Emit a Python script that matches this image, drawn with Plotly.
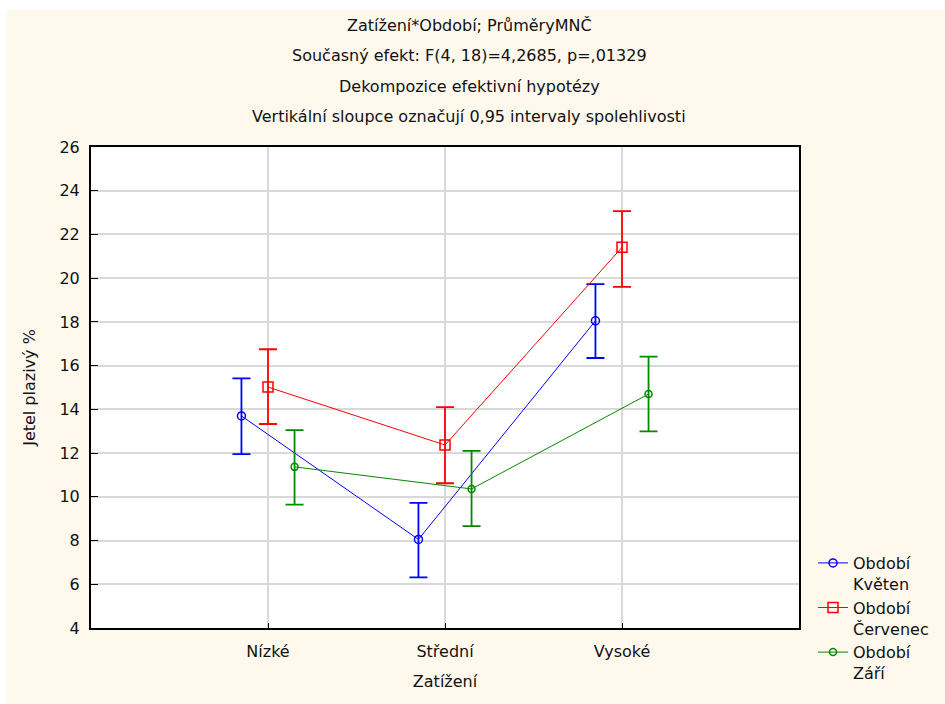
import plotly.graph_objects as go

# Zatížení (grazing load) levels and the three sampling periods
categories = ["Nízké", "Střední", "Vysoké"]
periods = ["Květen", "Červenec", "Září"]

# LS means of white clover share (%) with 0.95 confidence limits
mean_kveten = [13.7, 8.05, 18.05]
low_kveten = [11.95, 6.32, 16.35]
high_kveten = [15.42, 9.72, 19.73]

mean_cervenec = [15.02, 12.37, 21.41]
low_cervenec = [13.33, 10.62, 19.6]
high_cervenec = [16.75, 14.1, 23.07]

mean_zari = [11.37, 10.36, 14.7]
low_zari = [9.64, 8.66, 12.99]
high_zari = [13.05, 12.1, 16.41]

y_ticks = list(range(4, 27, 2))

FONT = "DejaVu Sans, Liberation Sans, sans-serif"
CREAM = "#FFF9ED"
TXT = "#111111"

series = [
    ("Květen", mean_kveten, low_kveten, high_kveten, "#0000FF", "circle-open", 8, -0.15),
    ("Červenec", mean_cervenec, low_cervenec, high_cervenec, "#FF0000", "square-open", 10, 0.0),
    ("Září", mean_zari, low_zari, high_zari, "#008A00", "circle-open", 7, 0.15),
]

fig = go.Figure()
for name, mean, low, high, color, symbol, msize, shift in series:
    xs = [i + 1 + shift for i in range(len(categories))]
    fig.add_trace(go.Scatter(
        x=xs,
        y=mean,
        mode="lines+markers",
        name="Období<br>" + name,
        line=dict(color=color, width=1),
        marker=dict(symbol=symbol, size=msize, color=color, line=dict(width=1.5, color=color)),
        error_y=dict(
            type="data",
            symmetric=False,
            array=[h - m for h, m in zip(high, mean)],
            arrayminus=[m - l for m, l in zip(mean, low)],
            color=color,
            thickness=1.8,
            width=9,
        ),
    ))

title_lines = [
    "Zatížení*Období; PrůměryMNČ",
    "Současný efekt: F(4, 18)=4,2685, p=,01329",
    "Dekompozice efektivní hypotézy",
    "Vertikální sloupce označují 0,95 intervaly spolehlivosti",
]
annotations = []
for k, line in enumerate(title_lines):
    annotations.append(dict(
        text=line, xref="paper", yref="paper",
        x=(470 - 91) / 709, y=1 + (147 - (25 + 30.5 * k)) / 481,
        xanchor="center", yanchor="middle", showarrow=False,
        font=dict(family=FONT, size=16, color=TXT),
    ))

# thin white border along the top and left edge of the page
shapes = [
    dict(type="rect", xref="paper", yref="paper",
         x0=-91 / 709, x1=(945 - 91) / 709, y0=1 + (147 - 10) / 481, y1=1 + 147 / 481,
         fillcolor="white", line=dict(width=0), layer="below"),
    dict(type="rect", xref="paper", yref="paper",
         x0=-91 / 709, x1=(6 - 91) / 709, y0=-76 / 481, y1=1 + 147 / 481,
         fillcolor="white", line=dict(width=0), layer="below"),
]

fig.update_layout(
    width=945, height=704,
    margin=dict(l=91, r=145, t=147, b=76),
    paper_bgcolor=CREAM,
    plot_bgcolor="white",
    font=dict(family=FONT, size=16, color=TXT),
    annotations=annotations,
    shapes=shapes,
    showlegend=True,
    legend=dict(
        x=(813 - 91) / 709, y=(628 - 546) / 481, xanchor="left", yanchor="top",
        bgcolor="rgba(0,0,0,0)", font=dict(family=FONT, size=16, color=TXT),
        itemwidth=30, valign="top",
    ),
)

fig.update_xaxes(
    range=[0, 4],
    tickvals=[1, 2, 3], ticktext=categories,
    showgrid=True, gridcolor="#D9D9D9", gridwidth=1.5,
    showline=True, linecolor="black", linewidth=2, mirror=True,
    ticks="inside", ticklen=5, tickcolor="black",
    zeroline=False, ticklabelstandoff=8,
    title=dict(text="Zatížení", standoff=16, font=dict(family=FONT, size=16)),
    tickfont=dict(family=FONT, size=16),
)
fig.update_yaxes(
    range=[4, 26],
    tickvals=y_ticks,
    showgrid=True, gridcolor="#D9D9D9", gridwidth=1.5,
    showline=True, linecolor="black", linewidth=2, mirror=True,
    ticks="inside", ticklen=7, tickcolor="black",
    zeroline=False, ticklabelstandoff=6,
    title=dict(text="Jetel plazivý %", standoff=20, font=dict(family=FONT, size=16)),
    tickfont=dict(family=FONT, size=16),
)

fig.write_html("out.html")
